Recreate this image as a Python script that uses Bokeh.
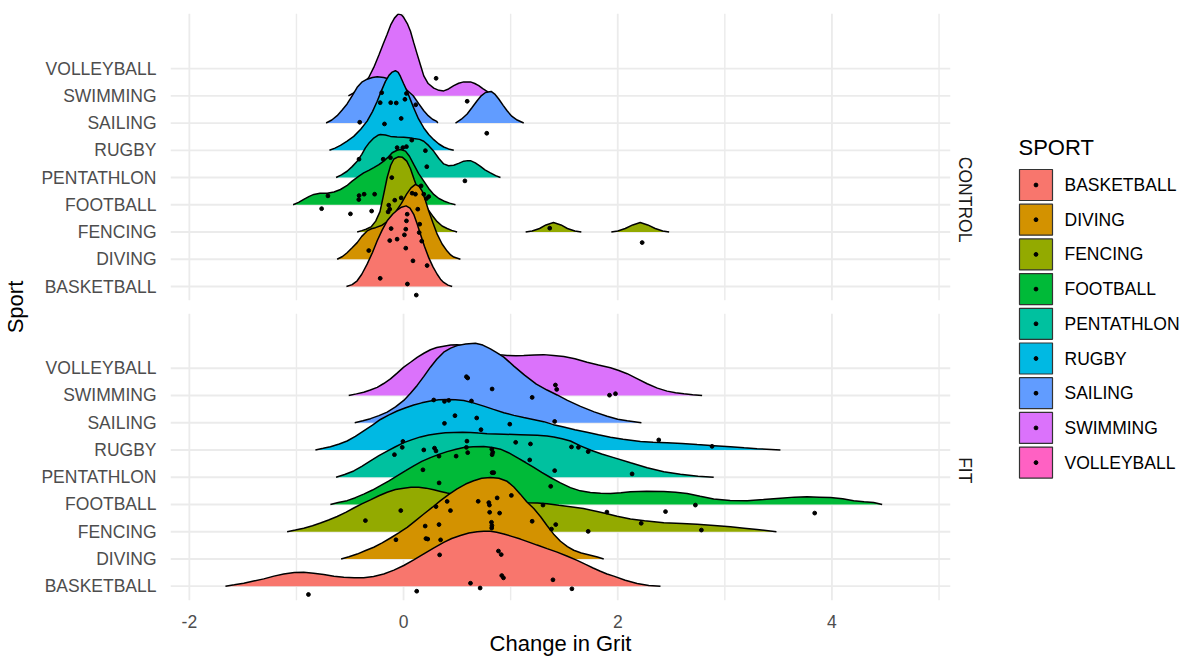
import math
import numpy as np
from bokeh.plotting import figure
from bokeh.models import Range1d, FixedTicker, LinearAxis
from bokeh.layouts import row
from bokeh.embed import file_html
from bokeh.resources import INLINE
from bokeh.core.properties import value

nan = float("nan")

# ---------------- data ----------------
sports = ["BASKETBALL", "DIVING", "FENCING", "FOOTBALL", "PENTATHLON",
          "RUGBY", "SAILING", "SWIMMING", "VOLLEYBALL"]
sport_colors = ["#F8766D", "#D39200", "#93AA00", "#00BA38", "#00C19F",
                "#00B9E3", "#619CFF", "#DB72FB", "#FF61C3"]
panels = ["CONTROL", "FIT"]
x_breaks = [-2, 0, 2, 4]
x_minor_breaks = [-1, 1, 3, 5]

# density ridge outlines (x = change in grit, h = ridge height in rows); nan separates pieces
ctrl_basketball_x = [-0.533, -0.48, -0.433, -0.39, -0.34, -0.29, -0.246, -0.2, -0.153, -0.10, -0.06, -0.02, 0.024, 0.06, 0.095, 0.125, 0.158, 0.195, 0.235, 0.275, 0.314, 0.345, 0.375, 0.415, 0.454]
ctrl_basketball_h = [0, 0.07, 0.21, 0.45, 0.82, 1.25, 1.68, 2.07, 2.41, 2.66, 2.8, 2.91, 2.96, 2.88, 2.65, 2.32, 1.92, 1.48, 1.06, 0.72, 0.45, 0.27, 0.15, 0.05, 0]
ctrl_diving_x = [-0.62, -0.57, -0.527, -0.48, -0.433, -0.39, -0.34, -0.30, -0.262, -0.2, -0.14, -0.08, -0.02, 0.03, 0.07, 0.111, 0.145, 0.174, 0.205, 0.235, 0.275, 0.314, 0.36, 0.407, 0.44, 0.469, 0.531]
ctrl_diving_h = [0, 0.1, 0.24, 0.42, 0.61, 0.84, 1.04, 1.12, 1.16, 1.25, 1.42, 1.7, 2.05, 2.4, 2.62, 2.75, 2.68, 2.5, 2.15, 1.77, 1.33, 0.92, 0.56, 0.3, 0.16, 0.08, 0]
ctrl_fencing_x = [-0.433, -0.39, -0.35, -0.30, -0.26, -0.22, -0.19, -0.153, -0.12, -0.09, -0.05, -0.01, 0.03, 0.064, 0.10, 0.142, 0.18, 0.22, 0.27, 0.314, 0.36, 0.407, 0.45, 0.5,
                  nan, 1.14, 1.20, 1.27, 1.33, 1.40, 1.47, 1.53, 1.60, 1.66,
                  nan, 1.94, 2.00, 2.07, 2.14, 2.21, 2.28, 2.35, 2.42, 2.48]
ctrl_fencing_h = [0, 0.05, 0.1, 0.2, 0.4, 0.75, 1.3, 2.0, 2.45, 2.68, 2.76, 2.74, 2.6, 2.33, 1.92, 1.48, 1.15, 0.87, 0.6, 0.38, 0.22, 0.13, 0.06, 0,
                  nan, 0, 0.04, 0.13, 0.26, 0.35, 0.26, 0.13, 0.04, 0,
                  nan, 0, 0.04, 0.13, 0.26, 0.35, 0.26, 0.13, 0.04, 0]
ctrl_football_x = [-1.031, -0.98, -0.932, -0.88, -0.838, -0.78, -0.713, -0.65, -0.589, -0.53, -0.48, -0.42, -0.372, -0.32, -0.278, -0.23, -0.185, -0.14, -0.106, -0.06, -0.029, 0.018, 0.055, 0.095, 0.14, 0.189, 0.235, 0.282, 0.33, 0.375, 0.43, 0.485]
ctrl_football_h = [0, 0.09, 0.2, 0.31, 0.38, 0.42, 0.42, 0.47, 0.56, 0.7, 0.87, 1.04, 1.17, 1.27, 1.36, 1.47, 1.6, 1.76, 1.91, 2.0, 2.03, 1.97, 1.78, 1.48, 1.15, 0.87, 0.6, 0.38, 0.23, 0.14, 0.06, 0]
ctrl_pentathlon_x = [-0.63, -0.58, -0.527, -0.48, -0.433, -0.39, -0.356, -0.32, -0.278, -0.24, -0.216, -0.17, -0.122, -0.06, 0.002, 0.05, 0.095, 0.15, 0.189, 0.235, 0.282, 0.33, 0.375, 0.42, 0.469, 0.52, 0.562, 0.6, 0.625, 0.67, 0.718, 0.76, 0.811, 0.86, 0.905]
ctrl_pentathlon_h = [0, 0.1, 0.23, 0.4, 0.6, 0.85, 1.09, 1.28, 1.45, 1.55, 1.58, 1.56, 1.51, 1.49, 1.48, 1.46, 1.43, 1.4, 1.33, 1.17, 0.96, 0.7, 0.5, 0.43, 0.45, 0.53, 0.6, 0.62, 0.62, 0.54, 0.41, 0.28, 0.17, 0.07, 0]
ctrl_rugby_x = [-0.692, -0.64, -0.589, -0.53, -0.465, -0.40, -0.34, -0.29, -0.246, -0.205, -0.169, -0.136, -0.106, -0.076, -0.05, -0.029, 0.0, 0.034, 0.065, 0.095, 0.14, 0.189, 0.235, 0.282, 0.33, 0.375, 0.42, 0.469]
ctrl_rugby_h = [0, 0.08, 0.18, 0.33, 0.51, 0.77, 1.07, 1.42, 1.8, 2.2, 2.53, 2.75, 2.87, 2.92, 2.86, 2.71, 2.45, 2.16, 1.85, 1.55, 1.15, 0.82, 0.58, 0.39, 0.23, 0.12, 0.05, 0]
ctrl_sailing_x = [-0.723, -0.67, -0.62, -0.575, -0.527, -0.48, -0.433, -0.39, -0.34, -0.29, -0.246, -0.185, -0.12, -0.05, 0.02, 0.09, 0.14, 0.189, 0.23, 0.27, 0.31, 0.32,
                  nan, 0.485, 0.54, 0.594, 0.64, 0.687, 0.725, 0.765, 0.818, 0.855, 0.889, 0.93, 0.967, 1.01, 1.061, 1.122]
ctrl_sailing_h = [0, 0.11, 0.27, 0.47, 0.7, 1.0, 1.31, 1.5, 1.61, 1.67, 1.7, 1.67, 1.6, 1.45, 1.25, 1.0, 0.72, 0.45, 0.27, 0.14, 0.06, 0,
                  nan, 0, 0.14, 0.33, 0.57, 0.82, 1.0, 1.12, 1.16, 1.05, 0.88, 0.65, 0.45, 0.25, 0.11, 0]
ctrl_swimming_x = [-0.515, -0.47, -0.42, -0.37, -0.325, -0.278, -0.23, -0.19, -0.153, -0.12, -0.085, -0.05, -0.02, 0.002, 0.035, 0.064, 0.095, 0.127, 0.16, 0.189, 0.23, 0.282, 0.33, 0.375, 0.42, 0.469, 0.515, 0.562, 0.625, 0.665, 0.702, 0.74, 0.78, 0.83]
ctrl_swimming_h = [0, 0.1, 0.25, 0.45, 0.67, 1.04, 1.5, 1.9, 2.26, 2.6, 2.85, 3.0, 2.97, 2.87, 2.65, 2.38, 1.95, 1.53, 1.1, 0.73, 0.45, 0.28, 0.2, 0.18, 0.25, 0.37, 0.46, 0.51, 0.51, 0.45, 0.37, 0.26, 0.16, 0]

fit_basketball_x = [-1.663, -1.58, -1.492, -1.40, -1.305, -1.21, -1.119, -1.02, -0.932, -0.84, -0.745, -0.65, -0.558, -0.46, -0.372, -0.28, -0.185, -0.09, 0.002, 0.095, 0.189, 0.28, 0.375, 0.45, 0.531, 0.61, 0.687, 0.75, 0.811, 0.87, 0.936, 1.01, 1.091, 1.17, 1.247, 1.34, 1.434, 1.53, 1.621, 1.7, 1.77, 1.838, 1.9, 1.963, 2.07, 2.181, 2.29, 2.399]
fit_basketball_h = [0, 0.05, 0.11, 0.19, 0.27, 0.37, 0.45, 0.5, 0.51, 0.48, 0.43, 0.37, 0.33, 0.31, 0.31, 0.36, 0.45, 0.59, 0.76, 0.97, 1.19, 1.4, 1.61, 1.75, 1.86, 1.95, 2.0, 2.02, 2.02, 1.98, 1.92, 1.83, 1.73, 1.62, 1.51, 1.38, 1.25, 1.1, 0.95, 0.8, 0.67, 0.55, 0.45, 0.37, 0.22, 0.1, 0.03, 0]
fit_diving_x = [-0.583, -0.51, -0.433, -0.36, -0.278, -0.2, -0.122, -0.045, 0.034, 0.11, 0.189, 0.27, 0.345, 0.42, 0.5, 0.58, 0.655, 0.73, 0.811, 0.89, 0.967, 1.03, 1.09, 1.15, 1.216, 1.28, 1.341, 1.40, 1.465, 1.53, 1.589, 1.66, 1.745, 1.81, 1.869]
fit_diving_h = [0, 0.08, 0.18, 0.3, 0.43, 0.59, 0.77, 0.96, 1.16, 1.4, 1.65, 1.9, 2.14, 2.36, 2.57, 2.75, 2.87, 2.96, 2.99, 2.96, 2.85, 2.64, 2.38, 2.1, 1.85, 1.55, 1.22, 0.92, 0.65, 0.45, 0.32, 0.22, 0.14, 0.07, 0]
fit_fencing_x = [-1.087, -1.01, -0.932, -0.85, -0.776, -0.70, -0.62, -0.54, -0.465, -0.39, -0.309, -0.23, -0.153, -0.075, 0.002, 0.07, 0.142, 0.21, 0.282, 0.345, 0.407, 0.5, 0.6, 0.7, 0.8, 0.9, 1.0, 1.08, 1.154, 1.25, 1.341, 1.45, 1.558, 1.68, 1.808, 1.9, 1.994, 2.119, 2.25, 2.43, 2.6, 2.741, 2.9, 3.052, 3.18, 3.301, 3.482]
fit_fencing_h = [0, 0.06, 0.13, 0.22, 0.32, 0.43, 0.56, 0.71, 0.87, 1.02, 1.17, 1.32, 1.45, 1.55, 1.6, 1.63, 1.63, 1.6, 1.54, 1.48, 1.42, 1.35, 1.28, 1.22, 1.17, 1.13, 1.1, 1.07, 1.06, 1.05, 1.03, 0.97, 0.92, 0.85, 0.74, 0.66, 0.57, 0.47, 0.4, 0.33, 0.3, 0.27, 0.23, 0.18, 0.13, 0.08, 0]
fit_football_x = [-0.683, -0.61, -0.527, -0.45, -0.372, -0.29, -0.216, -0.14, -0.06, 0.02, 0.095, 0.17, 0.251, 0.33, 0.407, 0.49, 0.562, 0.65, 0.749, 0.83, 0.905, 0.98, 1.061, 1.14, 1.216, 1.29, 1.372, 1.46, 1.558, 1.65, 1.745, 1.84, 1.932, 2.03, 2.119, 2.27, 2.43, 2.54, 2.648, 2.77, 2.896, 3.05, 3.208, 3.36, 3.519, 3.65, 3.768, 3.88, 3.986, 4.1, 4.203, 4.30, 4.39, 4.469]
fit_football_h = [0, 0.07, 0.14, 0.25, 0.38, 0.53, 0.69, 0.86, 1.05, 1.24, 1.42, 1.58, 1.72, 1.84, 1.94, 2.03, 2.09, 2.12, 2.13, 2.09, 2.03, 1.9, 1.72, 1.54, 1.36, 1.18, 0.99, 0.8, 0.62, 0.5, 0.44, 0.41, 0.4, 0.43, 0.47, 0.49, 0.48, 0.45, 0.4, 0.3, 0.2, 0.15, 0.14, 0.18, 0.23, 0.27, 0.28, 0.27, 0.26, 0.21, 0.14, 0.1, 0.07, 0]
fit_pentathlon_x = [-0.63, -0.55, -0.465, -0.39, -0.309, -0.23, -0.153, -0.075, 0.002, 0.08, 0.158, 0.236, 0.314, 0.39, 0.469, 0.55, 0.625, 0.7, 0.78, 0.86, 0.936, 1.09, 1.247, 1.34, 1.403, 1.48, 1.558, 1.652, 1.75, 1.85, 1.963, 2.12, 2.275, 2.43, 2.585, 2.75, 2.896]
fit_pentathlon_h = [0, 0.1, 0.23, 0.4, 0.6, 0.79, 0.96, 1.12, 1.27, 1.38, 1.48, 1.55, 1.6, 1.63, 1.64, 1.65, 1.64, 1.62, 1.6, 1.59, 1.58, 1.56, 1.54, 1.51, 1.48, 1.41, 1.33, 1.15, 0.99, 0.85, 0.72, 0.53, 0.35, 0.2, 0.11, 0.04, 0]
fit_rugby_x = [-0.823, -0.75, -0.683, -0.6, -0.527, -0.45, -0.372, -0.29, -0.216, -0.14, -0.06, 0.02, 0.095, 0.17, 0.251, 0.33, 0.407, 0.485, 0.562, 0.65, 0.749, 0.84, 0.936, 1.03, 1.122, 1.21, 1.309, 1.4, 1.496, 1.6, 1.714, 1.82, 1.932, 2.05, 2.212, 2.33, 2.461, 2.6, 2.741, 2.9, 3.052, 3.18, 3.301, 3.519]
fit_rugby_h = [0, 0.06, 0.12, 0.22, 0.33, 0.5, 0.7, 0.91, 1.12, 1.28, 1.43, 1.55, 1.65, 1.73, 1.8, 1.84, 1.85, 1.84, 1.82, 1.73, 1.61, 1.49, 1.37, 1.27, 1.19, 1.12, 1.04, 0.93, 0.84, 0.74, 0.65, 0.56, 0.47, 0.39, 0.31, 0.28, 0.27, 0.24, 0.2, 0.16, 0.12, 0.08, 0.05, 0]
fit_sailing_x = [-0.456, -0.38, -0.309, -0.23, -0.153, -0.075, 0.002, 0.065, 0.127, 0.19, 0.251, 0.31, 0.375, 0.44, 0.5, 0.58, 0.671, 0.74, 0.811, 0.87, 0.936, 1.03, 1.13, 1.24, 1.34, 1.434, 1.53, 1.652, 1.78, 1.901, 2.0, 2.088, 2.221]
fit_sailing_h = [0, 0.07, 0.15, 0.26, 0.39, 0.58, 0.82, 1.08, 1.37, 1.7, 2.04, 2.33, 2.59, 2.74, 2.83, 2.89, 2.92, 2.85, 2.71, 2.57, 2.41, 2.08, 1.75, 1.42, 1.2, 1.02, 0.82, 0.6, 0.4, 0.24, 0.13, 0.07, 0]
fit_swimming_x = [-0.512, -0.44, -0.372, -0.31, -0.246, -0.185, -0.122, -0.06, 0.002, 0.065, 0.127, 0.19, 0.251, 0.31, 0.375, 0.44, 0.5, 0.6, 0.7, 0.8, 0.9, 0.967, 1.05, 1.122, 1.22, 1.309, 1.4, 1.496, 1.6, 1.714, 1.82, 1.932, 2.01, 2.088, 2.18, 2.275, 2.37, 2.461, 2.54, 2.617, 2.7, 2.788]
fit_swimming_h = [0, 0.06, 0.12, 0.2, 0.3, 0.44, 0.61, 0.82, 1.04, 1.22, 1.4, 1.55, 1.68, 1.76, 1.81, 1.85, 1.86, 1.82, 1.7, 1.58, 1.5, 1.47, 1.46, 1.47, 1.49, 1.5, 1.47, 1.43, 1.35, 1.22, 1.12, 1.02, 0.92, 0.8, 0.62, 0.43, 0.27, 0.16, 0.1, 0.06, 0.03, 0]

# observed (jittered) points: x value and row position (0 = BASKETBALL row)
ctrl_pt_x = [0.304, 0.594, 0.777, -0.204, 0.027, 0.013, -0.218, -0.120, -0.068, 0.114, -0.409, -0.178, -0.022, 0.077, 0.204, -0.060, -0.007, 0.027, -0.416, -0.190, -0.122, 0.217, 0.573, -0.706, -0.415, -0.368, -0.270, -0.418, -0.110, -0.765, -0.496, -0.298, -0.138, -0.129, -0.144, -0.082, -0.022, 0.080, 0.111, 0.164, 0.189, 0.214, 0.235, 0.133, 0.034, -0.116, 0.027, 0.021, 0.008, 0.151, 0.146, -0.129, -0.060, 0.170, -0.325, 0.021, 0.088, 0.220, -0.218, 0.036, 0.119, 1.365, 2.228]
ctrl_pt_row = [7.642, 6.799, 5.625, 7.114, 7.085, 6.872, 6.747, 6.747, 6.736, 6.670, 6.029, 5.966, 6.168, 5.372, 4.987, 5.097, 5.097, 5.134, 4.672, 4.672, 4.730, 4.397, 3.876, 3.326, 3.337, 3.388, 3.388, 3.190, 3.997, 2.857, 2.666, 2.769, 2.985, 2.838, 2.739, 3.168, 3.253, 3.425, 3.388, 3.693, 3.388, 3.227, 3.300, 2.838, 2.655, 2.127, 2.409, 2.105, 1.896, 2.288, 1.980, 1.687, 1.738, 1.665, 1.320, 1.408, 0.942, 0.770, 0.301, 0.092, -0.315, 2.142, 1.613]
fit_pt_x = [0.587, 0.599, 0.827, 1.201, 1.418, 1.430, 1.923, 1.979, 0.282, 0.382, 0.422, 0.634, 0.480, 0.683, 0.382, 0.992, 1.411, 0.723, -0.006, -0.012, -0.085, 0.189, 0.289, 0.303, 0.331, 0.592, 0.587, 0.599, 0.491, 0.824, 0.833, 0.827, 1.047, 1.185, 1.178, 1.568, 1.633, 1.724, 2.383, 2.881, 0.181, 0.827, 0.842, 1.411, 2.134, 0.332, 1.374, -0.026, -0.356, 0.303, 0.407, 0.438, 0.697, 0.796, 0.802, 0.874, 1.007, 0.804, 0.897, 0.821, 0.825, 0.823, 1.201, 1.302, 1.381, 1.421, 1.724, 1.899, 2.446, 2.725, 3.839, 2.219, 2.781, 0.202, 0.331, 0.209, 0.226, 0.346, -0.071, 0.337, 0.886, 0.912, 0.917, 0.933, 1.395, 0.625, 0.715, 0.123, -0.888, 1.572]
fit_pt_row = [7.690, 7.642, 7.239, 6.931, 7.385, 7.224, 7.011, 7.066, 6.835, 6.784, 6.821, 6.799, 6.260, 6.175, 5.977, 5.948, 6.047, 5.746, 5.314, 5.097, 4.829, 5.002, 5.068, 4.965, 4.774, 5.325, 5.097, 4.903, 4.774, 5.031, 4.914, 4.829, 5.281, 5.222, 4.635, 5.112, 5.097, 4.940, 5.369, 5.134, 4.272, 4.169, 4.169, 4.243, 4.122, 3.792, 3.667, 2.776, 2.409, 2.923, 3.113, 2.776, 3.117, 3.069, 2.978, 3.242, 3.333, 2.714, 2.684, 2.347, 2.226, 2.134, 2.384, 2.978, 2.098, 2.263, 2.013, 2.721, 2.739, 2.978, 2.684, 2.310, 2.061, 2.208, 2.263, 1.749, 1.731, 1.702, 1.705, 1.151, 1.291, 1.162, 0.392, 0.308, 0.235, 0.110, -0.066, -0.183, -0.304, -0.095]

ridges = {
    "CONTROL": {
        "BASKETBALL": (ctrl_basketball_x, ctrl_basketball_h),
        "DIVING": (ctrl_diving_x, ctrl_diving_h),
        "FENCING": (ctrl_fencing_x, ctrl_fencing_h),
        "FOOTBALL": (ctrl_football_x, ctrl_football_h),
        "PENTATHLON": (ctrl_pentathlon_x, ctrl_pentathlon_h),
        "RUGBY": (ctrl_rugby_x, ctrl_rugby_h),
        "SAILING": (ctrl_sailing_x, ctrl_sailing_h),
        "SWIMMING": (ctrl_swimming_x, ctrl_swimming_h),
    },
    "FIT": {
        "BASKETBALL": (fit_basketball_x, fit_basketball_h),
        "DIVING": (fit_diving_x, fit_diving_h),
        "FENCING": (fit_fencing_x, fit_fencing_h),
        "FOOTBALL": (fit_football_x, fit_football_h),
        "PENTATHLON": (fit_pentathlon_x, fit_pentathlon_h),
        "RUGBY": (fit_rugby_x, fit_rugby_h),
        "SAILING": (fit_sailing_x, fit_sailing_h),
        "SWIMMING": (fit_swimming_x, fit_swimming_h),
    },
}
points = {"CONTROL": (ctrl_pt_x, ctrl_pt_row), "FIT": (fit_pt_x, fit_pt_row)}

# ---------------- layout constants ----------------
FONT = "Liberation Sans"
PANEL_X = (-2.176, 5.107)
panel_y = {"CONTROL": (10.5, 21.02), "FIT": (-0.524, 10.0)}
panel_offset = {"CONTROL": 11, "FIT": 0}
GRID = "#EBEBEB"
FRAME_TOP, FRAME_BOTTOM = 13, 600

p = figure(width=1000, height=659,
           x_range=Range1d(*PANEL_X), y_range=Range1d(-0.524, 21.02),
           toolbar_location=None, output_backend="svg",
           min_border_left=170, min_border_right=50,
           min_border_top=FRAME_TOP, min_border_bottom=659 - FRAME_BOTTOM)
p.xgrid.visible = False
p.ygrid.visible = False
p.outline_line_color = None
p.background_fill_color = "white"
p.border_fill_color = "white"

# grid lines
gx0, gy0, gx1, gy1, gw = [], [], [], [], []
for panel in panels:
    lo, hi = panel_y[panel]
    off = panel_offset[panel]
    for xb in x_breaks:
        gx0.append(xb); gx1.append(xb); gy0.append(lo); gy1.append(hi); gw.append(1.8)
    for xb in x_minor_breaks:
        gx0.append(xb); gx1.append(xb); gy0.append(lo); gy1.append(hi); gw.append(1.4)
    for i in range(len(sports)):
        gx0.append(PANEL_X[0]); gx1.append(PANEL_X[1]); gy0.append(off + i); gy1.append(off + i); gw.append(1.8)
p.segment(x0=gx0, y0=gy0, x1=gx1, y1=gy1, line_color=GRID, line_width=gw)

# ridges, drawn from top row to bottom row
for panel in panels:
    off = panel_offset[panel]
    for i in reversed(range(len(sports))):
        sp = sports[i]
        if sp not in ridges[panel]:
            continue
        xs, hs = ridges[panel][sp]
        xa = np.array(xs, dtype=float)
        ya = off + i + np.array(hs, dtype=float)
        p.patch(xa, ya, fill_color=sport_colors[i], fill_alpha=1.0, line_alpha=0)
        p.line(xa, ya, line_color="black", line_width=1.5)

for panel in panels:
    off = panel_offset[panel]
    px, pr = points[panel]
    p.scatter(px, off + np.array(pr), size=3.8, color="black")

# axes
p.xaxis.ticker = FixedTicker(ticks=x_breaks)
p.xaxis.major_label_overrides = {v: str(v) for v in x_breaks}
p.yaxis.ticker = FixedTicker(ticks=[panel_offset[pn] + i for pn in panels for i in range(len(sports))])
p.yaxis.major_label_overrides = {panel_offset[pn] + i: sports[i] for pn in panels for i in range(len(sports))}
for ax in (p.xaxis, p.yaxis):
    ax.axis_line_color = None
    ax.major_tick_line_color = None
    ax.minor_tick_line_color = None
    ax.major_label_text_font = FONT
    ax.major_label_text_font_size = "17.5px"
    ax.major_label_text_color = "#4D4D4D"
    ax.axis_label_text_font = FONT
    ax.axis_label_text_font_size = "22px"
    ax.axis_label_text_font_style = "normal"
    ax.axis_label_text_color = "black"
p.xaxis.axis_label = "Change in Grit"
p.yaxis.axis_label = "Sport"
p.xaxis.major_label_standoff = 8
p.xaxis.axis_label_standoff = 0
p.yaxis.major_label_standoff = 8
p.yaxis.axis_label_standoff = 10

# facet strip labels on the right
centers = {pn: (panel_y[pn][0] + panel_y[pn][1]) / 2 for pn in panels}
strip = LinearAxis(ticker=FixedTicker(ticks=[centers[pn] for pn in panels]),
                   major_label_overrides={centers[pn]: pn for pn in panels})
strip.axis_line_color = None
strip.major_tick_line_color = None
strip.minor_tick_line_color = None
strip.major_label_orientation = -math.pi / 2
strip.major_label_standoff = 8
strip.major_label_text_font = FONT
strip.major_label_text_font_size = "17.5px"
strip.major_label_text_color = "#1A1A1A"
p.add_layout(strip, "right")

# legend panel (its frame lines up with the main frame; y is measured in page pixels)
leg = figure(width=193, height=659, x_range=Range1d(0, 193), y_range=Range1d(FRAME_BOTTOM, FRAME_TOP),
             toolbar_location=None, output_backend="svg", min_border=0,
             min_border_top=FRAME_TOP, min_border_bottom=659 - FRAME_BOTTOM,
             x_axis_location=None, y_axis_location=None)
leg.xgrid.visible = False
leg.ygrid.visible = False
leg.outline_line_color = None
key_top, key_step = 184.5, 34.7
key_y = [key_top + key_step * i for i in range(len(sports))]
leg.rect(x=35.5, y=key_y, width=33, height=31, fill_color=sport_colors,
         line_color="#333333", line_width=1.2)
leg.scatter(x=[35.5] * len(sports), y=key_y, size=3.8, color="black")
leg.text(x=[64] * len(sports), y=key_y, text=sports, text_font=value(FONT),
         text_font_size="17.5px", text_baseline="middle", text_align="left", text_color="black")
leg.text(x=[18], y=[147], text=["SPORT"], text_font=value(FONT),
         text_font_size="22px", text_baseline="middle", text_align="left", text_color="black")

layout = row(p, leg)
open("out.html", "w").write(file_html(layout, INLINE))
